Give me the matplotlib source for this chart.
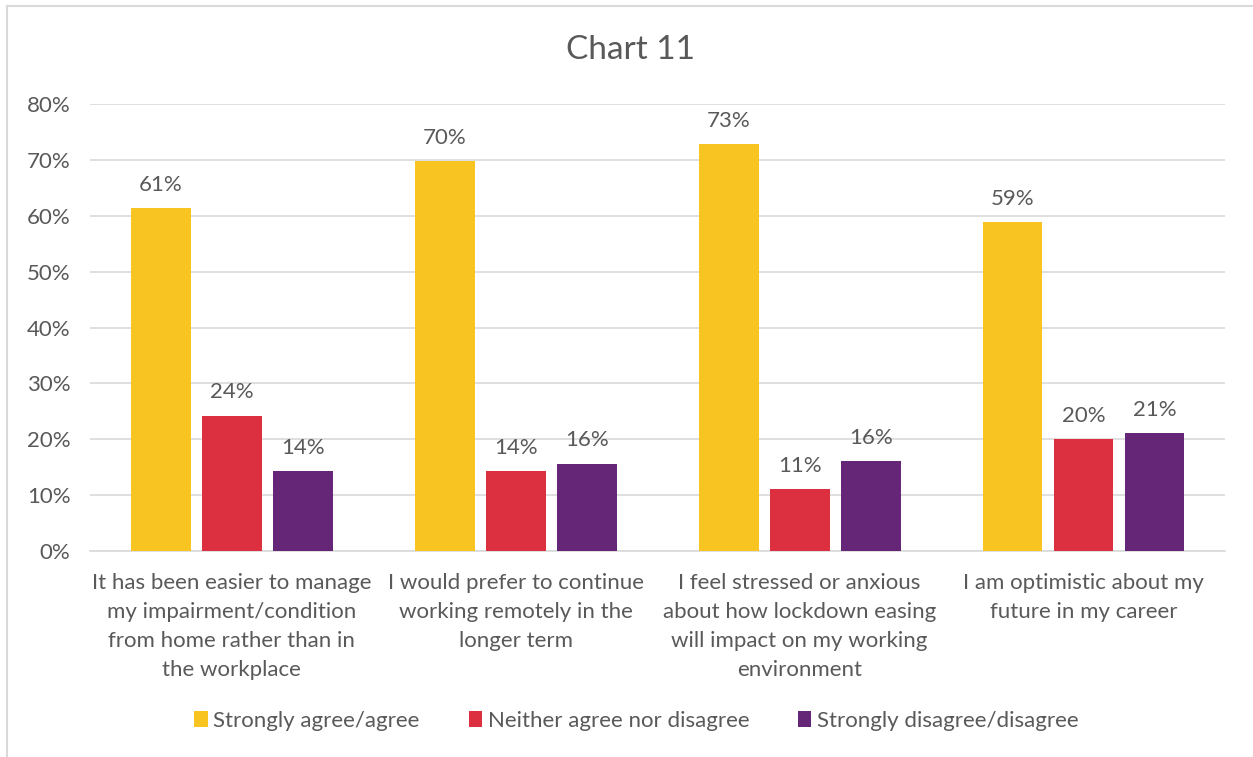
import matplotlib.pyplot as plt
import numpy as np
from matplotlib.lines import Line2D

# Datos del grafico
categorias = [
    "It has been easier to manage\nmy impairment/condition\nfrom home rather than in\nthe workplace",
    "I would prefer to continue\nworking remotely in the\nlonger term",
    "I feel stressed or anxious\nabout how lockdown easing\nwill impact on my working\nenvironment",
    "I am optimistic about my\nfuture in my career",
]
series = ["Strongly agree/agree", "Neither agree nor disagree", "Strongly disagree/disagree"]
de_acuerdo = [61.4, 69.8, 72.8, 58.9]
neutral = [24.2, 14.3, 11.1, 20.0]
en_desacuerdo = [14.3, 15.6, 16.1, 21.1]
etiquetas = [
    ["61%", "70%", "73%", "59%"],
    ["24%", "14%", "11%", "20%"],
    ["14%", "16%", "16%", "21%"],
]
colores = ["#F8C421", "#DC2F40", "#662678"]
gris = "#595959"

plt.rcParams["font.family"] = ["Lato", "DejaVu Sans"]

fig = plt.figure(figsize=(12.53, 7.57), dpi=100)
ax = fig.add_axes([0.0718, 0.2721, 0.9062, 0.5905])

x = np.arange(len(categorias))
ancho = 0.211
valores = [de_acuerdo, neutral, en_desacuerdo]
for i, vals in enumerate(valores):
    pos = x + (i - 1) * 0.25
    ax.bar(pos, vals, width=ancho, color=colores[i], label=series[i], zorder=3)
    for p, v, t in zip(pos, vals, etiquetas[i]):
        ax.text(p, v + 2.4, t, ha="center", va="bottom", fontsize=16, color=gris)

ax.set_xlim(-0.5, len(categorias) - 0.5)
ax.set_ylim(0, 80)
ax.set_yticks(range(0, 81, 10))
ax.set_yticklabels([f"{v}%" for v in range(0, 81, 10)], fontsize=16, color=gris)
ax.set_xticks(x)
ax.set_xticklabels(categorias, fontsize=16, color=gris, linespacing=1.55)
ax.tick_params(length=0, pad=14)
ax.tick_params(axis="x", pad=16)
ax.grid(axis="y", color="#D9D9D9", linewidth=1.2, zorder=0)
for s in ["top", "right", "left"]:
    ax.spines[s].set_visible(False)
ax.spines["bottom"].set_color("#D9D9D9")
ax.spines["bottom"].set_linewidth(1.2)

fig.text(0.503, 1 - 50 / 757, "Chart 11", ha="center", va="center", fontsize=24, color=gris)

fig.legend(loc="center", bbox_to_anchor=(0.508, 1 - 721 / 757), ncol=3, frameon=False,
           fontsize=16, labelcolor=gris, handlelength=0.6, handleheight=0.7,
           handletextpad=0.25, columnspacing=2.2)

# Borde del area del grafico (solo izquierda y arriba se ven)
borde = "#D9D9D9"
fig.lines.append(Line2D([7 / 1253, 7 / 1253], [0, 1 - 6 / 757], transform=fig.transFigure,
                        color=borde, linewidth=1.5))
fig.lines.append(Line2D([7 / 1253, 1], [1 - 6 / 757, 1 - 6 / 757], transform=fig.transFigure,
                        color=borde, linewidth=1.5))

plt.savefig("out.png", dpi=100)
